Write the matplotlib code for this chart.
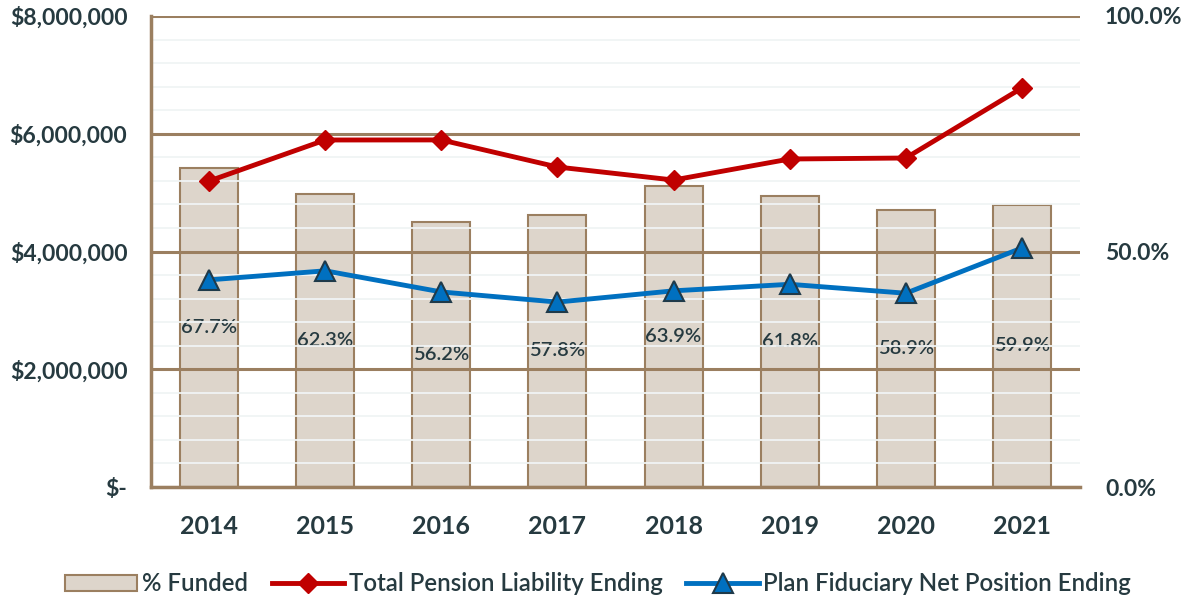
import matplotlib.pyplot as plt
from matplotlib.patches import Patch
from matplotlib.ticker import FuncFormatter, MultipleLocator

years = ["2014", "2015", "2016", "2017", "2018", "2019", "2020", "2021"]
pct_funded = [67.7, 62.3, 56.2, 57.8, 63.9, 61.8, 58.9, 59.9]
total_liability = [5197000, 5894000, 5895000, 5435000, 5214000, 5571000, 5588000, 6777000]
net_position = [3518000, 3672000, 3313000, 3141000, 3332000, 3443000, 3291000, 4059000]

BROWN = "#9b7f60"
BAR_FILL = "#ddd5cb"
TEXT = "#263a40"
RED = "#c00000"
BLUE = "#0070c0"

plt.rcParams["font.family"] = ["Lato", "DejaVu Sans"]


def money(v, _pos):
    if v == 0:
        return "$-"
    return f"${v:,.0f}"


fig = plt.figure(figsize=(11.96, 5.99), dpi=100)
ax = fig.add_axes([151 / 1196, 1 - 487 / 599, 929 / 1196, 471 / 599])
ax2 = ax.twinx()

x = list(range(len(years)))

# bars on the percentage axis
ax2.bar(x, pct_funded, width=0.5, color=BAR_FILL, edgecolor=BROWN, linewidth=1.5, zorder=2)
for xi, p in zip(x, pct_funded):
    ax2.text(xi, p / 2, f"{p:.1f}%", ha="center", va="center", fontsize=14.5,
             fontweight="semibold", color=TEXT, zorder=3)
ax2.set_ylim(0, 100)
ax2.set_yticks([0, 50, 100])
ax2.yaxis.set_major_formatter(FuncFormatter(lambda v, p: f"{v:.1f}%"))

# gridlines and lines on the dollar axis
ax.set_ylim(0, 8000000)
ax.set_xlim(-0.5, 7.5)
ax.yaxis.set_major_locator(MultipleLocator(2000000))
ax.yaxis.set_minor_locator(MultipleLocator(400000))
ax.yaxis.set_major_formatter(FuncFormatter(money))
ax.grid(which="minor", axis="y", color="#f0f4f4", linewidth=1.3)
ax.grid(which="major", axis="y", color=BROWN, linewidth=2.2)
ax.set_axisbelow(True)

ax2.set_zorder(1)
ax.set_zorder(2)
ax.patch.set_visible(False)
ax2.patch.set_facecolor("white")

ax.plot(x, total_liability, color=RED, linewidth=3.5, marker="D", markersize=10,
        markeredgecolor=RED, zorder=4, label="Total Pension Liability Ending")
ax.plot(x, net_position, color=BLUE, linewidth=3.5, marker="^", markersize=15,
        markerfacecolor=BLUE, markeredgecolor="#1f3a4a", markeredgewidth=1.5, zorder=4,
        label="Plan Fiduciary Net Position Ending")

ax.set_xticks(x)
ax.set_xticklabels(years)

for a in (ax, ax2):
    for s in ("top", "right", "left", "bottom"):
        a.spines[s].set_visible(False)
for s in ("left", "bottom"):
    ax.spines[s].set_visible(True)
    ax.spines[s].set_color(BROWN)
    ax.spines[s].set_linewidth(2.5)

ax.tick_params(axis="y", which="both", length=0, pad=17, labelsize=16.5, labelcolor=TEXT)
ax.tick_params(axis="x", length=0, pad=20, labelsize=18, labelcolor=TEXT)
ax2.tick_params(axis="y", length=0, pad=18, labelsize=16.5, labelcolor=TEXT)
for lbl in ax.get_yticklabels() + ax.get_xticklabels() + ax2.get_yticklabels():
    lbl.set_fontweight("bold")

handles = [Patch(facecolor=BAR_FILL, edgecolor=BROWN, linewidth=1.5, label="% Funded")]
handles += ax.get_lines()
leg = fig.legend(handles=handles, loc="lower center", bbox_to_anchor=(0.5, -0.03), ncol=3,
                 frameon=False, handlelength=3.0, handletextpad=0.2,
                 columnspacing=1.0, prop={"size": 17.3, "weight": "semibold"})
for t in leg.get_texts():
    t.set_color(TEXT)

fig.savefig("out.png", dpi=100)
